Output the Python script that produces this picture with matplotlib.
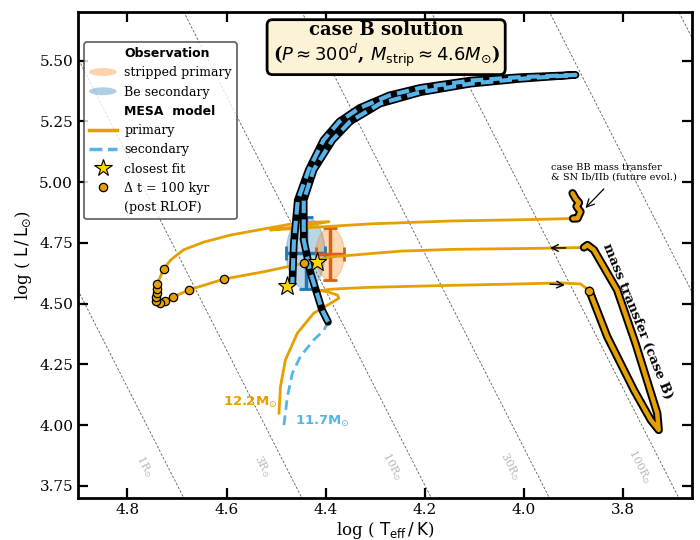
import matplotlib.pyplot as plt
import numpy as np
from matplotlib.patches import Ellipse, Patch
from matplotlib.lines import Line2D
from matplotlib.legend_handler import HandlerPatch

plt.rcParams['font.family'] = 'DejaVu Serif'
plt.rcParams['mathtext.fontset'] = 'dejavusans'

ORANGE = '#E69F00'
BLUE = '#56B4E9'

# --- primary (12.2 Msun): ZAMS -> MS hook -> Hertzsprung gap -> RLOF
prim_ms_T = [4.494, 4.491, 4.481, 4.457, 4.424, 4.390, 4.373, 4.376, 4.397, 4.410,
             4.390, 4.343, 4.309, 4.147, 4.006, 3.925, 3.885, 3.867]
prim_ms_L = [4.049, 4.158, 4.268, 4.378, 4.460, 4.501, 4.522, 4.535, 4.549, 4.553,
             4.559, 4.564, 4.567, 4.575, 4.581, 4.585, 4.581, 4.553]
# case B mass transfer
prim_mt_T = [3.867, 3.831, 3.777, 3.743, 3.727, 3.730, 3.774, 3.811, 3.858, 3.871, 3.878]
prim_mt_L = [4.553, 4.364, 4.144, 4.021, 3.980, 4.049, 4.337, 4.556, 4.721, 4.741, 4.731]
# post RLOF: contraction, core He burning, expansion
prim_post_T = [3.878, 3.949, 4.147, 4.248, 4.390, 4.444, 4.525, 4.605, 4.675, 4.708,
               4.725, 4.735, 4.742, 4.743, 4.741, 4.740, 4.740, 4.727, 4.713, 4.687,
               4.646, 4.592, 4.525, 4.457, 4.393, 4.45, 4.511, 4.309, 4.147, 4.006,
               3.900, 3.891]
prim_post_L = [4.731, 4.728, 4.723, 4.716, 4.692, 4.666, 4.631, 4.601, 4.557, 4.527,
               4.512, 4.504, 4.511, 4.526, 4.542, 4.559, 4.581, 4.642, 4.679, 4.721,
               4.753, 4.782, 4.807, 4.832, 4.837, 4.818, 4.803, 4.828, 4.840, 4.845,
               4.850, 4.851]
# case BB
prim_bb_T = [3.900, 3.891, 3.885, 3.893, 3.888, 3.895, 3.901]
prim_bb_L = [4.850, 4.851, 4.878, 4.900, 4.915, 4.932, 4.954]

# --- secondary (11.7 Msun)
sec_pre_T = [4.484, 4.477, 4.467, 4.451, 4.424, 4.403, 4.395]
sec_pre_L = [4.000, 4.117, 4.213, 4.282, 4.350, 4.391, 4.425]
sec_mt_T = [4.395, 4.407, 4.430, 4.444, 4.444, 4.424, 4.386, 4.350, 4.290, 4.208,
            4.107, 4.006, 3.895, 4.006, 4.107, 4.208, 4.271, 4.331, 4.372, 4.404,
            4.434, 4.456, 4.464, 4.467, 4.477]
sec_mt_L = [4.425, 4.474, 4.625, 4.762, 4.926, 5.050, 5.173, 5.250, 5.323, 5.370,
            5.405, 5.425, 5.441, 5.432, 5.418, 5.388, 5.357, 5.305, 5.249, 5.173,
            5.050, 4.926, 4.748, 4.584, 4.572]

# 100 kyr markers after RLOF
dots_T = [3.867, 4.444, 4.605, 4.675, 4.708, 4.725, 4.735, 4.742, 4.743, 4.741, 4.740, 4.740, 4.727]
dots_L = [4.553, 4.666, 4.601, 4.557, 4.527, 4.512, 4.504, 4.511, 4.526, 4.542, 4.559, 4.581, 4.642]

# closest fit
fit_T = [4.418, 4.477]
fit_L = [4.672, 4.572]

# observations: (logT, logL, errT, errL)
obs_be = [4.440, 4.709, 0.039, 0.148]
obs_strip = [4.391, 4.704, 0.029, 0.106]

radii = [1, 3, 10, 30, 100, 300, 1000]
radii_lab = [1, 3, 10, 30, 100]
logTsun = np.log10(5772)


class HandlerEllipse(HandlerPatch):
    def create_artists(self, legend, orig_handle, xdescent, ydescent, width, height, fontsize, trans):
        center = 0.5 * width - 0.5 * xdescent, 0.5 * height - 0.5 * ydescent
        p = Ellipse(xy=center, width=width + xdescent, height=height * 0.9 + ydescent)
        self.update_prop(p, orig_handle, legend)
        p.set_transform(trans)
        return [p]


fig = plt.figure(figsize=(7, 5.4), dpi=100)
ax = fig.add_axes([0.1114, 0.0778, 0.877, 0.9])

# constant radius lines
Tg = np.linspace(3.4, 5.2, 50)
for R in radii:
    ax.plot(Tg, 2 * np.log10(R) + 4 * (Tg - logTsun), ls='--', color='0.35', lw=0.6, zorder=0.5, dashes=(3, 2))
for R in radii_lab:
    Ly = 3.83
    Tl = logTsun + (Ly - 2 * np.log10(R)) / 4 + 0.047
    ax.text(Tl, Ly, r'%dR$_{\odot}$' % R, color='0.72', fontsize=8, rotation=-63,
            ha='center', va='center')

# observations
for (T, L, eT, eL), fc, ec in [(obs_be, '#1f77b4', '#1f77b4'), (obs_strip, '#ff7f0e', '#d95f0e')]:
    ax.add_patch(Ellipse((T, L), 2 * eT, 2 * eL, facecolor=fc, alpha=0.3, edgecolor=fc, lw=1, zorder=1))
    ax.errorbar(T, L, xerr=eT, yerr=eL, color=ec, lw=2.5, capsize=5, capthick=2, zorder=2)

# primary
ax.plot(prim_ms_T, prim_ms_L, color=ORANGE, lw=2, zorder=3)
ax.plot(prim_post_T, prim_post_L, color=ORANGE, lw=2, zorder=3)
for T, L in [(prim_mt_T, prim_mt_L), (prim_bb_T, prim_bb_L)]:
    ax.plot(T, L, color='k', lw=6, zorder=4, solid_capstyle='round')
    ax.plot(T, L, color=ORANGE, lw=3.2, zorder=5, solid_capstyle='round')

# secondary
ax.plot(sec_pre_T, sec_pre_L, color=BLUE, lw=2, ls='--', zorder=3, dashes=(3.5, 2))
ax.plot(sec_mt_T, sec_mt_L, color='k', lw=5.5, zorder=4, solid_capstyle='round')
ax.plot(sec_mt_T, sec_mt_L, color=BLUE, lw=3, ls='--', zorder=5, dashes=(3, 1.5))

ax.plot(dots_T, dots_L, 'o', color=ORANGE, mec='k', mew=0.9, ms=6, zorder=6)
ax.plot(fit_T, fit_L, '*', color='#FFD700', mec='k', mew=0.8, ms=14, zorder=7)

# direction arrows
ax.annotate('', xy=(3.952, 4.729), xytext=(3.909, 4.729),
            arrowprops=dict(arrowstyle='->', color='k', lw=1, mutation_scale=12), zorder=8)
ax.annotate('', xy=(3.911, 4.575), xytext=(3.952, 4.581),
            arrowprops=dict(arrowstyle='->', color='k', lw=1, mutation_scale=12), zorder=8)
ax.annotate('', xy=(3.879, 4.885), xytext=(3.834, 4.980),
            arrowprops=dict(arrowstyle='->', color='k', lw=0.9, mutation_scale=14), zorder=8)
ax.text(3.945, 5.079, 'case BB mass transfer\n& SN Ib/IIb (future evol.)', fontsize=7,
        ha='left', va='top', linespacing=1.05)
ax.text(3.771, 4.426, 'mass transfer (case B)', fontsize=9.5, fontweight='bold',
        rotation=-68, ha='center', va='center')

ax.text(4.497, 4.095, r'12.2M$_{\odot}$', color=ORANGE, fontsize=9.5, fontweight='bold',
        family='DejaVu Sans', ha='right', va='center')
ax.text(4.461, 4.017, r'11.7M$_{\odot}$', color=BLUE, fontsize=9.5, fontweight='bold',
        family='DejaVu Sans', ha='left', va='center')

ax.text(0.502, 0.932, 'case B solution\n' + r'($P \approx 300^{d}$, $M_{\rm strip} \approx 4.6M_{\odot}$)',
        transform=ax.transAxes, ha='center', va='center', fontsize=13, fontweight='bold',
        linespacing=1.15, zorder=10,
        bbox=dict(boxstyle='round,pad=0.3', fc='#fcf3d6', ec='k', lw=2))

# legend
handles = [Line2D([], [], color='none'),
           Patch(facecolor='#ff7f0e', alpha=0.35, edgecolor='none'),
           Patch(facecolor='#1f77b4', alpha=0.35, edgecolor='none'),
           Line2D([], [], color='none'),
           Line2D([], [], color=ORANGE, lw=2.5),
           Line2D([], [], color=BLUE, lw=2.5, ls='--'),
           Line2D([], [], marker='*', color='#FFD700', mec='k', mew=0.8, ms=13, ls='none'),
           Line2D([], [], marker='o', color=ORANGE, mec='k', mew=0.9, ms=6, ls='none'),
           Line2D([], [], color='none')]
labels = ['Observation', 'stripped primary', 'Be secondary', 'MESA  model', 'primary',
          'secondary', 'closest fit', 'Δ t = 100 kyr', '(post RLOF)']
leg = ax.legend(handles, labels, loc='upper left', bbox_to_anchor=(0.01, 0.938), borderaxespad=0,
                fontsize=9, labelspacing=0.5, handlelength=2.2, handletextpad=0.6,
                handler_map={Patch: HandlerEllipse()}, fancybox=True)
leg.get_frame().set_edgecolor('#333333')
leg.get_frame().set_linewidth(1.2)
for i in (0, 3):
    leg.get_texts()[i].set_fontweight('bold')
    leg.get_texts()[i].set_family('DejaVu Sans')
leg.set_zorder(9)

ax.set_xlim(4.9, 3.66)
ax.set_ylim(3.70, 5.70)
ax.set_xticks([4.8, 4.6, 4.4, 4.2, 4.0, 3.8])
ax.set_yticks([3.75, 4.0, 4.25, 4.5, 4.75, 5.0, 5.25, 5.5])
ax.tick_params(direction='in', top=True, right=True, length=7, width=1.6, labelsize=11)
for s in ax.spines.values():
    s.set_linewidth(2)
ax.set_xlabel(r'log ( $\mathrm{T_{eff}\,/\,K}$)', fontsize=12, labelpad=2)
ax.set_ylabel(r'log ( $\mathrm{L\,/\,L_{\odot}}$)', fontsize=12, labelpad=4)

fig.savefig('out.png', dpi=100)
